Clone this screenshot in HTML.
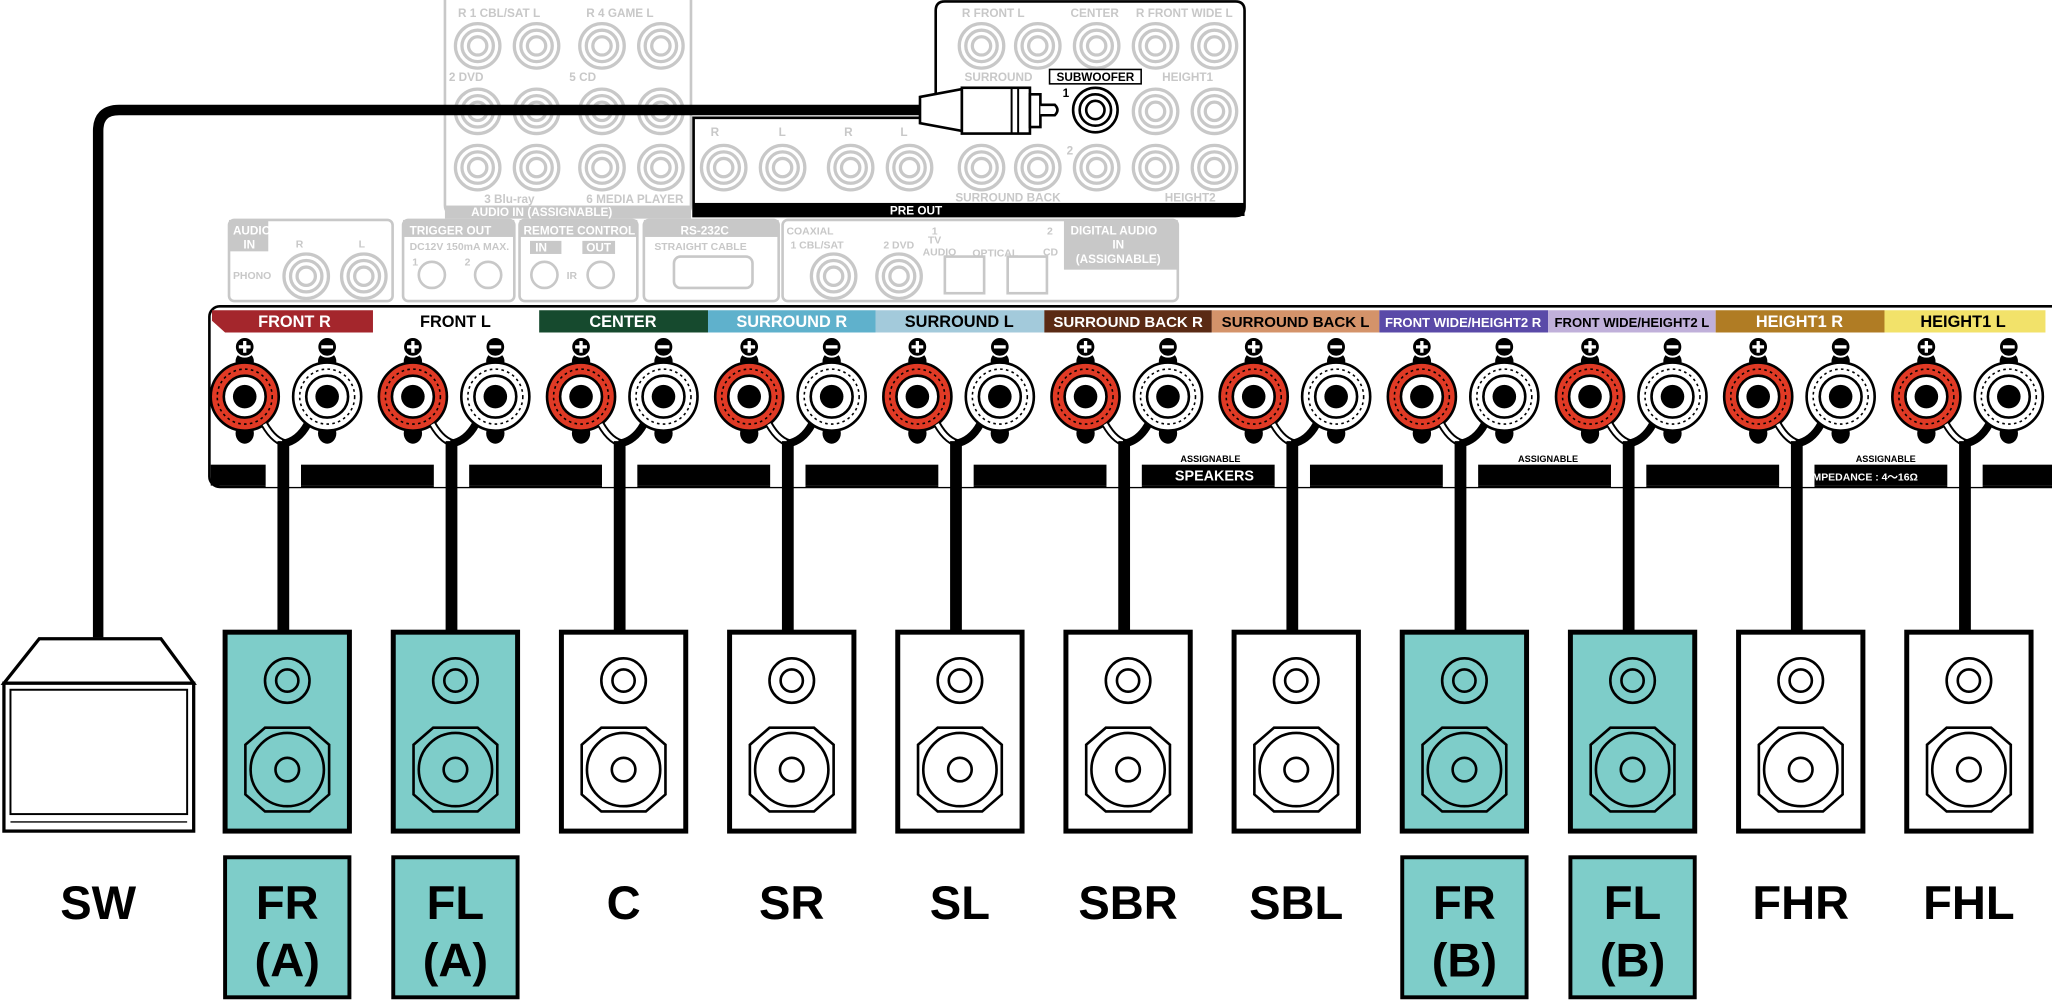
<!DOCTYPE html>
<html><head><meta charset="utf-8"><style>
html,body{margin:0;padding:0;background:#fff;}
svg{display:block;font-family:"Liberation Sans",Arial,sans-serif;}
</style></head><body>
<svg width="2052" height="1000" viewBox="0 0 1568 764" xmlns="http://www.w3.org/2000/svg">
<defs>
<g id="term">
<ellipse cx="0" cy="-27" rx="7" ry="7" fill="#000"/>
<ellipse cx="0" cy="28" rx="7" ry="8" fill="#000"/>
<circle r="26" stroke="#000" stroke-width="2"/>
<circle r="21" fill="none" stroke="#000" stroke-width="1.2" stroke-dasharray="2 2.5"/>
<circle r="16" fill="#fff" stroke="#000" stroke-width="2"/>
<circle r="9" fill="#000"/>
</g>
<g id="ch">
<use href="#term" x="27" y="303" fill="#e03a25"/>
<use href="#term" x="90" y="303" fill="#fff"/>
<circle cx="27" cy="265" r="7.5" fill="#000" stroke="#fff" stroke-width="1.5"/>
<path d="M22.5 265h9M27 260.5v9" stroke="#fff" stroke-width="2.5"/>
<circle cx="90" cy="265" r="7.5" fill="#000" stroke="#fff" stroke-width="1.5"/>
<path d="M85.5 265h9" stroke="#fff" stroke-width="2.5"/>
<path d="M42 324 Q50 338 60 339" fill="none" stroke="#000" stroke-width="6"/>
<path d="M42 324 Q50 338 60 339" fill="none" stroke="#fff" stroke-width="3"/>
<path d="M75 324 Q68 337 56 339" fill="none" stroke="#000" stroke-width="6"/>
<rect x="43" y="354" width="27" height="18" fill="#fff"/>
<rect x="52" y="337" width="9" height="146" fill="#000"/>
</g>
<g id="spk" fill="none" stroke="#000">
<circle cx="0" cy="520" r="17" stroke-width="2"/>
<circle cx="0" cy="520" r="8.5" stroke-width="2"/>
<path d="M-17 556 H17 L32 569 V607 L17 620 H-17 L-32 607 V569 Z" stroke-width="2"/>
<circle cx="0" cy="588" r="28" stroke-width="2"/>
<circle cx="0" cy="588" r="9" stroke-width="2"/>
</g>
<g id="rca" fill="none" stroke="#c8c8c8" stroke-width="2.5">
<circle r="17"/><circle r="12"/><circle r="7"/>
</g>
</defs>

<!-- top left gray panel -->
<rect x="340" y="-10" width="188" height="175" rx="8" fill="#fff" stroke="#c8c8c8" stroke-width="2"/>
<g fill="#c8c8c8" font-size="9" font-weight="bold">
<text x="350" y="13">R 1 CBL/SAT L</text><text x="448" y="13">R 4 GAME L</text>
<text x="343" y="62">2 DVD</text><text x="435" y="62">5 CD</text>
<text x="370" y="155">3 Blu-ray</text><text x="448" y="155">6 MEDIA PLAYER</text>
<rect x="340" y="157" width="188" height="10"/>
</g>
<text x="360" y="165" font-size="9" font-weight="bold" fill="#fff">AUDIO    IN    (ASSIGNABLE)</text>
<use href="#rca" x="365" y="35"/><use href="#rca" x="410" y="35"/><use href="#rca" x="460" y="35"/><use href="#rca" x="505" y="35"/>
<use href="#rca" x="365" y="85"/><use href="#rca" x="410" y="85"/><use href="#rca" x="460" y="85"/><use href="#rca" x="505" y="85"/>
<use href="#rca" x="365" y="128"/><use href="#rca" x="410" y="128"/><use href="#rca" x="460" y="128"/><use href="#rca" x="505" y="128"/>

<!-- PRE OUT panel -->
<path d="M715 90 V8 Q715 1 722 1 H944 Q951 1 951 8 V158 Q951 165 944 165 H530 V90 Z" fill="#fff" stroke="#000" stroke-width="2"/>
<rect x="530" y="155" width="421" height="10" fill="#000"/>
<text x="700" y="164" font-size="9" font-weight="bold" fill="#fff" text-anchor="middle">PRE OUT</text>
<g fill="#c8c8c8" font-size="9" font-weight="bold">
<text x="735" y="13">R  FRONT  L</text><text x="818" y="13">CENTER</text><text x="868" y="13">R FRONT WIDE L</text>
<text x="737" y="62">SURROUND</text><text x="888" y="62">HEIGHT1</text>
<text x="543" y="104">R</text><text x="595" y="104">L</text><text x="645" y="104">R</text><text x="688" y="104">L</text>
<text x="730" y="154">SURROUND BACK</text><text x="890" y="154">HEIGHT2</text><text x="815" y="118">2</text>
</g>
<use href="#rca" x="750" y="35"/><use href="#rca" x="793" y="35"/><use href="#rca" x="838" y="35"/><use href="#rca" x="883" y="35"/><use href="#rca" x="928" y="35"/>
<use href="#rca" x="883" y="85"/><use href="#rca" x="928" y="85"/>
<use href="#rca" x="553" y="128"/><use href="#rca" x="598" y="128"/><use href="#rca" x="650" y="128"/><use href="#rca" x="695" y="128"/>
<use href="#rca" x="750" y="128"/><use href="#rca" x="793" y="128"/><use href="#rca" x="838" y="128"/><use href="#rca" x="883" y="128"/><use href="#rca" x="928" y="128"/>
<rect x="802" y="53" width="70" height="11" fill="#fff" stroke="#000" stroke-width="1.2"/>
<text x="837" y="62" font-size="9" font-weight="bold" text-anchor="middle">SUBWOOFER</text>
<text x="812" y="74" font-size="9" font-weight="bold">1</text>
<g fill="none" stroke="#000" stroke-width="2"><circle cx="837" cy="84" r="17"/><circle cx="837" cy="84" r="12"/><circle cx="837" cy="84" r="7"/></g>

<!-- middle gray panels -->
<g fill="#fff" stroke="#c8c8c8" stroke-width="2">
<rect x="175" y="168" width="125" height="62" rx="4"/>
<rect x="308" y="168" width="85" height="62" rx="4"/>
<rect x="397" y="168" width="90" height="62" rx="4"/>
<rect x="492" y="168" width="103" height="62" rx="4"/>
<rect x="598" y="168" width="302" height="62" rx="4"/>
<rect x="515" y="196" width="60" height="24" rx="5"/>
<rect x="722" y="196" width="30" height="28"/><rect x="770" y="196" width="30" height="28"/>
</g>
<g fill="#c8c8c8">
<rect x="175" y="168" width="30" height="24"/><rect x="308" y="168" width="85" height="13"/><rect x="397" y="168" width="90" height="13"/><rect x="492" y="168" width="103" height="13"/><rect x="813" y="168" width="87" height="38"/>
<rect x="405" y="184" width="24" height="10"/><rect x="445" y="184" width="25" height="10"/>
</g>
<g font-size="9" font-weight="bold" fill="#fff">
<text x="178" y="179">AUDIO</text><text x="186" y="190">IN</text>
<text x="313" y="179">TRIGGER OUT</text><text x="400" y="179">REMOTE CONTROL</text><text x="520" y="179">RS-232C</text>
<text x="818" y="179">DIGITAL AUDIO</text><text x="850" y="190">IN</text><text x="822" y="201">(ASSIGNABLE)</text>
<text x="409" y="192">IN</text><text x="448" y="192">OUT</text>
</g>
<g font-size="8" font-weight="bold" fill="#c8c8c8">
<text x="226" y="189">R</text><text x="274" y="189">L</text><text x="178" y="213">PHONO</text>
<text x="313" y="191">DC12V 150mA MAX.</text><text x="315" y="203">1</text><text x="355" y="203">2</text>
<text x="433" y="213">IR</text><text x="500" y="191">STRAIGHT CABLE</text>
<text x="601" y="179">COAXIAL</text><text x="604" y="190">1 CBL/SAT</text><text x="675" y="190">2 DVD</text><text x="712" y="179">1</text><text x="709" y="186">TV</text><text x="705" y="195">AUDIO</text><text x="743" y="196">OPTICAL</text><text x="800" y="179">2</text><text x="797" y="195">CD</text>
</g>
<use href="#rca" x="234" y="211"/><use href="#rca" x="278" y="211"/><use href="#rca" x="637" y="211"/><use href="#rca" x="687" y="211"/>
<g fill="none" stroke="#c8c8c8" stroke-width="2"><circle cx="330" cy="210" r="10"/><circle cx="373" cy="210" r="10"/><circle cx="416" cy="210" r="10"/><circle cx="459" cy="210" r="10"/></g>

<!-- speaker panel -->
<rect x="160" y="234" width="1430" height="138" rx="8" fill="#fff" stroke="#000" stroke-width="2"/>
<rect x="161" y="355" width="1420" height="16" fill="#000"/>
<g font-size="12.5" font-weight="bold" text-anchor="middle">
<path d="M162 237 H285 V254 H172 L162 245 Z" fill="#a4262c"/>
<rect x="412" y="237" width="129" height="17" fill="#164a2e"/>
<rect x="541" y="237" width="128" height="17" fill="#5fb1cc"/>
<rect x="669" y="237" width="129" height="17" fill="#a3cadb"/>
<rect x="798" y="237" width="128" height="17" fill="#5a2a14"/>
<rect x="926" y="237" width="128" height="17" fill="#d4936a"/>
<rect x="1054" y="237" width="129" height="17" fill="#5a4aa8"/>
<rect x="1183" y="237" width="128" height="17" fill="#c0b0da"/>
<rect x="1311" y="237" width="129" height="17" fill="#b07c24"/>
<rect x="1440" y="237" width="123" height="17" fill="#f2e26a"/>
<text x="225" y="250" fill="#fff">FRONT R</text>
<text x="348" y="250" fill="#000">FRONT L</text>
<text x="476" y="250" fill="#fff">CENTER</text>
<text x="605" y="250" fill="#fff">SURROUND R</text>
<text x="733" y="250" fill="#000">SURROUND L</text>
<text x="862" y="250" fill="#fff" font-size="11.5">SURROUND BACK R</text>
<text x="990" y="250" fill="#000" font-size="11.5">SURROUND BACK L</text>
<text x="1118" y="250" fill="#fff" font-size="10">FRONT WIDE/HEIGHT2 R</text>
<text x="1247" y="250" fill="#000" font-size="10">FRONT WIDE/HEIGHT2 L</text>
<text x="1375" y="250" fill="#fff">HEIGHT1 R</text>
<text x="1500" y="250" fill="#000">HEIGHT1 L</text>
</g>
<use href="#ch" x="160"/><use href="#ch" x="288.5"/><use href="#ch" x="417"/><use href="#ch" x="545.5"/><use href="#ch" x="674"/><use href="#ch" x="802.5"/><use href="#ch" x="931"/><use href="#ch" x="1059.5"/><use href="#ch" x="1188"/><use href="#ch" x="1316.5"/><use href="#ch" x="1445"/>
<g font-size="7" font-weight="bold">
<text x="902" y="353">ASSIGNABLE</text><text x="1160" y="353">ASSIGNABLE</text><text x="1418" y="353">ASSIGNABLE</text>
</g>
<text x="928" y="367" font-size="11" font-weight="bold" fill="#fff" text-anchor="middle">SPEAKERS</text>
<text x="1385" y="367" font-size="8" font-weight="bold" fill="#fff">MPEDANCE : 4～16Ω</text>

<!-- speakers -->
<g stroke="#000" stroke-width="3.8">
<rect x="172" y="483" width="95" height="152" fill="#7ecdc9"/>
<rect x="300.5" y="483" width="95" height="152" fill="#7ecdc9"/>
<rect x="429" y="483" width="95" height="152" fill="#fff"/>
<rect x="557.5" y="483" width="95" height="152" fill="#fff"/>
<rect x="686" y="483" width="95" height="152" fill="#fff"/>
<rect x="814.5" y="483" width="95" height="152" fill="#fff"/>
<rect x="943" y="483" width="95" height="152" fill="#fff"/>
<rect x="1071.5" y="483" width="95" height="152" fill="#7ecdc9"/>
<rect x="1200" y="483" width="95" height="152" fill="#7ecdc9"/>
<rect x="1328.5" y="483" width="95" height="152" fill="#fff"/>
<rect x="1457" y="483" width="95" height="152" fill="#fff"/>
</g>
<use href="#spk" x="219.5"/><use href="#spk" x="348"/><use href="#spk" x="476.5"/><use href="#spk" x="605"/><use href="#spk" x="733.5"/><use href="#spk" x="862"/><use href="#spk" x="990.5"/><use href="#spk" x="1119"/><use href="#spk" x="1247.5"/><use href="#spk" x="1376"/><use href="#spk" x="1504.5"/>

<!-- subwoofer cable & box -->
<path d="M75 487 V100 Q75 84 91 84 H705" fill="none" stroke="#000" stroke-width="8"/>
<path d="M703 74 L735 68 V100 L703 94 Z" fill="#fff" stroke="#000" stroke-width="2"/>
<rect x="735" y="67" width="52" height="35" fill="#fff" stroke="#000" stroke-width="2"/>
<path d="M773 67 V102 M778 67 V102" stroke="#000" stroke-width="1.5"/>
<rect x="787" y="72" width="8" height="25" fill="#fff" stroke="#000" stroke-width="2"/>
<path d="M795 80 H806 Q810 84 806 88 H795" fill="#fff" stroke="#000" stroke-width="2"/>
<path d="M3 522 L30 488 H123 L148 522 Z" fill="#fff" stroke="#000" stroke-width="2.5"/>
<rect x="3" y="522" width="145" height="113" fill="#fff" stroke="#000" stroke-width="2.5"/>
<rect x="8" y="527" width="135" height="95" fill="#fff" stroke="#000" stroke-width="1.5"/>
<path d="M8 628 H143" stroke="#000" stroke-width="1"/>

<!-- labels -->
<g fill="#7ecdc9" stroke="#000" stroke-width="3">
<rect x="172" y="655" width="95" height="107"/><rect x="300.5" y="655" width="95" height="107"/>
<rect x="1071.5" y="655" width="95" height="107"/><rect x="1200" y="655" width="95" height="107"/>
</g>
<g font-size="36" font-weight="bold" text-anchor="middle">
<text x="75" y="702">SW</text>
<text x="219.5" y="702">FR</text><text x="219.5" y="746">(A)</text>
<text x="348" y="702">FL</text><text x="348" y="746">(A)</text>
<text x="476.5" y="702">C</text>
<text x="605" y="702">SR</text>
<text x="733.5" y="702">SL</text>
<text x="862" y="702">SBR</text>
<text x="990.5" y="702">SBL</text>
<text x="1119" y="702">FR</text><text x="1119" y="746">(B)</text>
<text x="1247.5" y="702">FL</text><text x="1247.5" y="746">(B)</text>
<text x="1376" y="702">FHR</text>
<text x="1504.5" y="702">FHL</text>
</g>
</svg>
</body></html>
